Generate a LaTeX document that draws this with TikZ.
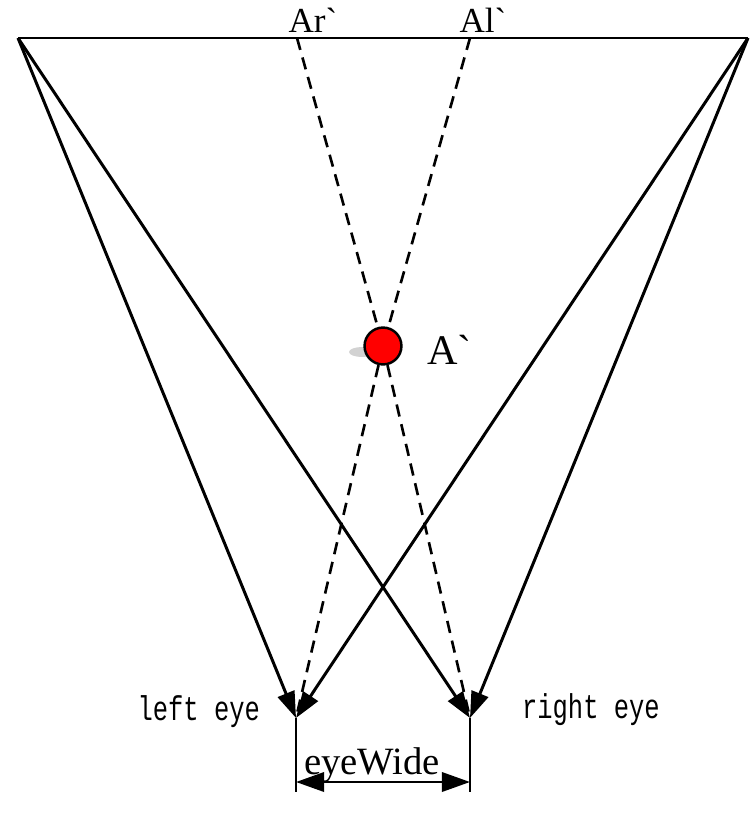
\documentclass[tikz,border=0pt]{standalone}
\usepackage{fontspec}
\usepackage{graphicx}
\setmainfont{Liberation Serif}
\newfontfamily\eyefont{Liberation Mono}
\usetikzlibrary{arrows.meta, positioning, calc}
\newcommand{\tallword}[1]{\scalebox{1}[1.35]{#1}}
\tikzset{%
   % sight lines from the screen edges and the image point
   ray/.style={
      line width=1.7pt,
      -{Triangle[length=15pt,width=10pt]}
   },
   dray/.style={
      line width=1.5pt,
      dash pattern=on 7pt off 4.5pt
   },
   lbl/.style={
      inner sep=1pt,
      font=\fontsize{20}{22}\selectfont
   },
   eyelbl/.style={
      inner sep=1pt,
      font=\eyefont\fontsize{14.5}{16}\selectfont
   },
   spot/.style={
      circle,
      draw=black,
      line width=1.4pt,
      fill=red,
      minimum size=21pt,
      inner sep=0pt
   },
}

\begin{document}
\begin{tikzpicture}[x=0.02cm, y=-0.02cm]
  \useasboundingbox (0,0) rectangle (750,818);
  % screen
  \coordinate (sl) at (18,38);
  \coordinate (sr) at (748,38);
  \coordinate (ar) at (297,38);
  \coordinate (al) at (470,38);
  \draw[line width=1.7pt] (sl) -- (sr);
  \node[lbl, anchor=base] (arlab) at (313,32) {Ar\textasciigrave};
  \node[lbl, anchor=base] (allab) at (483,32) {Al\textasciigrave};

  % eyes
  \coordinate (le) at (296,718);
  \coordinate (re) at (470,718);
  \coordinate (lb) at (296,792);
  \coordinate (rb) at (470,792);
  \node[eyelbl, anchor=base east] (leftlab) at (262,720) {\tallword{left eye}};
  \node[eyelbl, anchor=base west] (rightlab) at (520,718) {\tallword{right eye}};

  % image point
  \fill[gray!35] (362,352) ellipse (13 and 5);
  \node[spot] (A) at (383,346) {};
  \node[lbl, anchor=west, font=\fontsize{24}{26}\selectfont] (Alab) at (425,350) {A\textasciigrave};

  \draw[ray] (sl) -- (le);
  \draw[ray] (sl) -- (re);
  \draw[ray] (sr) -- (re);
  \draw[ray] (sr) -- (le);

  \draw[dray] (ar) -- (A);
  \draw[dray] (al) -- (A);
  \draw[dray] (A) -- (le);
  \draw[dray] (A) -- (re);

  % eye distance
  \draw[line width=1.7pt] (le) -- (lb);
  \draw[line width=1.7pt] (re) -- (rb);
  \coordinate (lw) at (296,782);
  \coordinate (rw) at (470,782);
  \draw[line width=1.5pt, {Triangle[length=16pt,width=11pt]}-{Triangle[length=16pt,width=11pt]}] (lw) -- (rw);
  \node[lbl, anchor=base, font=\fontsize{22}{24}\selectfont] (wlab) at (372,774) {eyeWide};
\end{tikzpicture}
\end{document}
